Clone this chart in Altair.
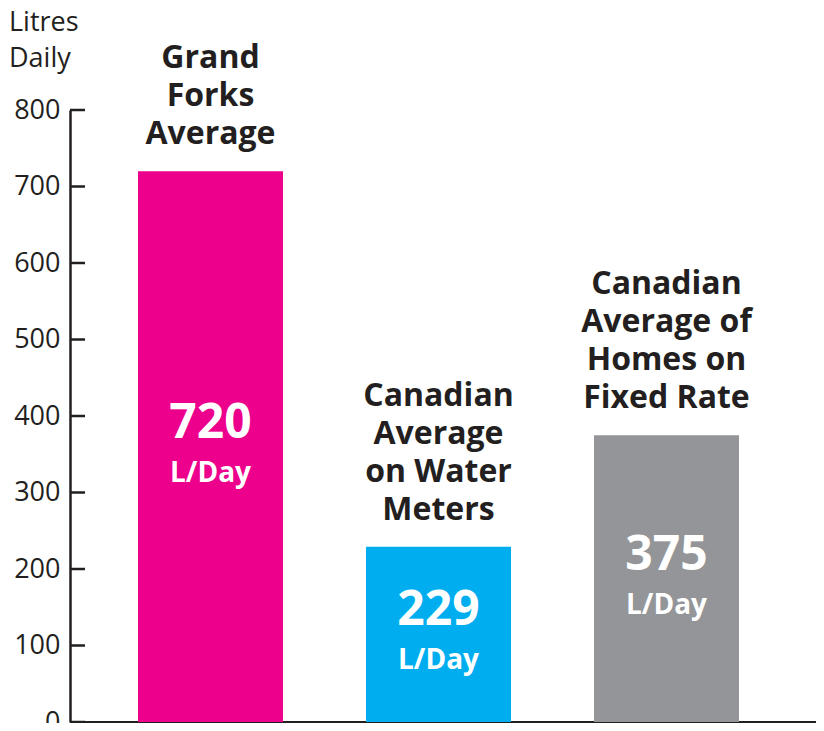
import altair as alt
import pandas as pd

categories = ["Grand Forks Average", "Canadian Average on Water Meters", "Canadian Average of Homes on Fixed Rate"]
titles = ["Grand\nForks\nAverage", "Canadian\nAverage\non Water\nMeters", "Canadian\nAverage of\nHomes on\nFixed Rate"]
values = [720, 229, 375]
colors = ["#ec008c", "#00aeef", "#939598"]
unit_label = "L/Day"
y_ticks = [0, 100, 200, 300, 400, 500, 600, 700, 800]
axis_title = "Litres\nDaily"

DARK = "#231f20"
FONT = "Open Sans"
PLOT_W = 746
PLOT_H = 612
Y_MAX = 800
LINE_H = 38

df = pd.DataFrame({
    "category": categories,
    "title": titles,
    "nlines": [t.count("\n") + 1 for t in titles],
    "value": values,
    "unit": [unit_label] * len(values),
})
ticks_df = pd.DataFrame({"value": y_ticks})
title_df = pd.DataFrame({"t": [axis_title]})

x_enc = alt.X(
    "category:N",
    sort=categories,
    scale=alt.Scale(paddingInner=0.364, paddingOuter=0.318, align=0.469),
    axis=alt.Axis(title=None, labels=False, ticks=False, domain=True,
                  domainColor=DARK, domainWidth=3),
)
y_scale = alt.Scale(domain=[0, Y_MAX], nice=False)
y_axis = alt.Axis(title=None, values=y_ticks, grid=False, tickSize=0, labelPadding=10,
                  labelFontSize=27, labelFont=FONT, labelColor=DARK,
                  domainColor=DARK, domainWidth=2.5)

color_enc = alt.Color("category:N", sort=categories,
                      scale=alt.Scale(domain=categories, range=colors), legend=None)

bars = alt.Chart(df).mark_bar().encode(
    x=x_enc,
    y=alt.Y("value:Q", scale=y_scale, axis=y_axis),
    color=color_enc,
)

tick_rules = alt.Chart(ticks_df).mark_rule(color=DARK, strokeWidth=2.5).encode(
    y=alt.Y("value:Q", scale=y_scale, axis=y_axis),
    x=alt.value(0),
    x2=alt.value(15),
)

base_mid = alt.Chart(df).transform_calculate(mid="datum.value / 2")

numbers = base_mid.mark_text(font=FONT, fontWeight="bold", fontSize=48, color="white",
                             baseline="middle", dy=-23).encode(
    x=x_enc,
    y=alt.Y("mid:Q", scale=y_scale, axis=y_axis),
    text=alt.Text("value:Q"),
)

units = base_mid.mark_text(font=FONT, fontWeight="bold", fontSize=28, color="white",
                           baseline="middle", dy=27).encode(
    x=x_enc,
    y=alt.Y("mid:Q", scale=y_scale, axis=y_axis),
    text=alt.Text("unit:N"),
)

# first line of a multi-line label sits at the anchor; lift the block by its extra lines
px_to_units = Y_MAX / PLOT_H
cat_labels = alt.Chart(df).transform_calculate(
    ty=f"datum.value + (datum.nlines - 1) * {LINE_H} * {px_to_units}"
).mark_text(font=FONT, fontWeight="bold", fontSize=32, color=DARK,
            baseline="bottom", lineBreak="\n", lineHeight=LINE_H, dy=-20).encode(
    x=x_enc,
    y=alt.Y("ty:Q", scale=y_scale, axis=y_axis),
    text=alt.Text("title:N"),
)

y_title = alt.Chart(title_df).mark_text(font=FONT, fontSize=27, color=DARK, align="left",
                                        baseline="middle", lineBreak="\n", lineHeight=36).encode(
    x=alt.value(-61),
    y=alt.value(-87),
    text=alt.Text("t:N"),
)

chart = alt.layer(bars, tick_rules, numbers, units, cat_labels, y_title).properties(
    width=PLOT_W,
    height=PLOT_H,
    autosize=alt.AutoSizeParams(type="none"),
    padding={"left": 62, "top": 102, "right": 0, "bottom": 1},
).configure_view(stroke=None)

chart.save("out.html", embed_options={"renderer": "svg", "actions": False})
